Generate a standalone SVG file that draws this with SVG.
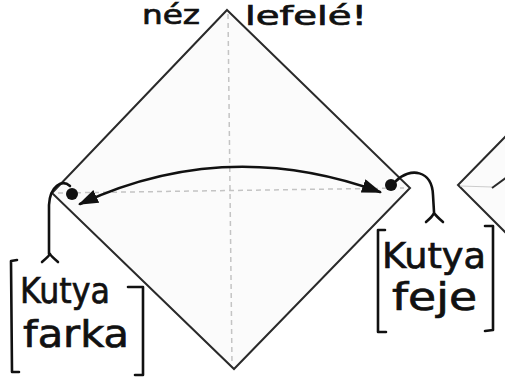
<svg xmlns="http://www.w3.org/2000/svg" width="505" height="380" viewBox="0 0 505 380">
<style>
.paper{fill:#fbfbfb;stroke:#2a2a2a;stroke-width:2;stroke-linejoin:miter}
.fold{fill:none;stroke:#c4c4c4;stroke-width:1.5;stroke-dasharray:5 4}
.ink{fill:none;stroke:#111;stroke-width:2.6;stroke-linecap:round;stroke-linejoin:round}
.lbl{font-family:"DejaVu Sans","Liberation Sans",sans-serif;fill:#111;stroke:#111;stroke-width:0.7}
</style>
<defs>
<marker id="ah" viewBox="0 0 20 14" refX="18" refY="7" markerWidth="20" markerHeight="14" markerUnits="userSpaceOnUse" orient="auto-start-reverse">
<path d="M0,0 L20,7 L0,14 z" fill="#111"/>
</marker>
</defs>
<rect width="505" height="380" fill="#fff"/>
<g id="diamond">
<polygon class="paper" points="227,10 410,188 234,369 52,193"/>
<line class="fold" x1="228" y1="14" x2="232" y2="364"/>
<line class="fold" x1="58" y1="193" x2="404" y2="188"/>
</g>
<g id="next-diamond">
<polyline class="paper" points="507,135 458,185 507,234"/>
<line x1="460" y1="186" x2="492" y2="187" stroke="#ccc" stroke-width="1.2"/>
<line x1="492" y1="188" x2="507" y2="177" stroke="#2a2a2a" stroke-width="2"/>
</g>
<g id="connectors">
<path class="ink" d="M80,204 Q226,136 380,192" marker-start="url(#ah)" marker-end="url(#ah)"/>
<circle cx="72" cy="194" r="6" fill="#111"/>
<circle cx="391" cy="185" r="6" fill="#111"/>
<path class="ink" d="M70,186 C62,179 50,186 49,205 L49,254"/>
<path class="ink" d="M42,262 Q49,256 50,254 Q51,256 58,262"/>
<path class="ink" d="M396,181 C410,167 432,170 433,195 L434,212"/>
<path class="ink" d="M426,222 Q433,216 434,213 Q436,216 443,222"/>
</g>
<g id="label-tail">
<path class="ink" d="M17,260 L11,261 L12,372 L19,372"/>
<path class="ink" d="M128,287 L143,287 L143,375 L135,375"/>
<text class="lbl" x="20" y="303" font-size="36" textLength="90" lengthAdjust="spacingAndGlyphs">Kutya</text>
<text class="lbl" x="23" y="347" font-size="38" textLength="106" lengthAdjust="spacingAndGlyphs">farka</text>
</g>
<g id="label-head">
<path class="ink" d="M385,230 L378,230 L378,332 L386,332"/>
<path class="ink" d="M485,226 L493,226 L493,330 L485,331"/>
<text class="lbl" x="382" y="268" font-size="35" textLength="104" lengthAdjust="spacingAndGlyphs">Kutya</text>
<text class="lbl" x="392" y="310" font-size="37" textLength="85" lengthAdjust="spacingAndGlyphs">feje</text>
</g>
<g id="caption">
<text class="lbl" x="142" y="24" font-size="26" textLength="58" lengthAdjust="spacingAndGlyphs">néz</text>
<text class="lbl" x="245" y="25" font-size="26" textLength="122" lengthAdjust="spacingAndGlyphs">lefelé!</text>
</g>
</svg>
